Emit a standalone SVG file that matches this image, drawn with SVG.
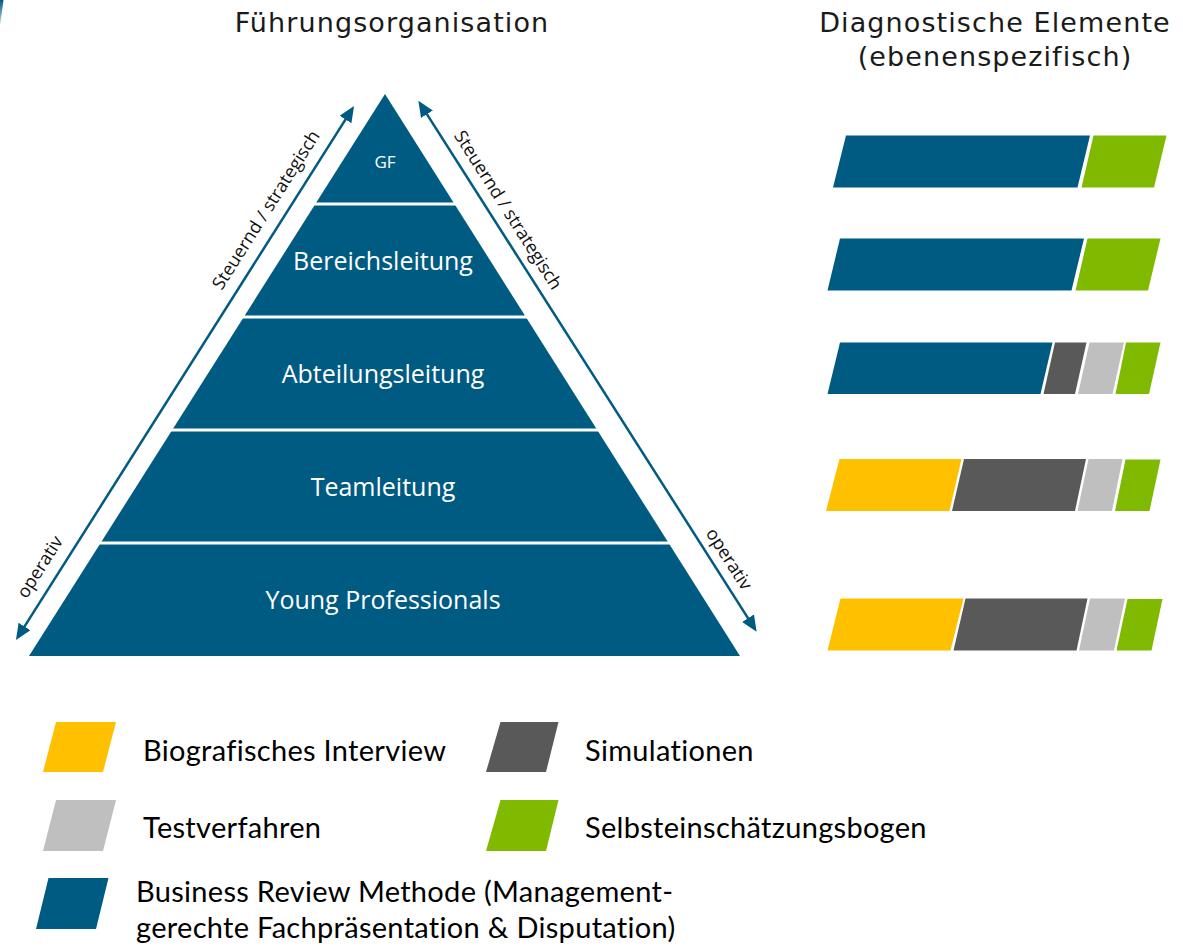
<svg xmlns="http://www.w3.org/2000/svg" width="1183" height="947" viewBox="0 0 1183 947">
  <defs>
    <style>
      .title { font-family: "DejaVu Sans", Verdana, sans-serif; font-size: 27px; fill: #1a1a1a; letter-spacing: 1.1px; }
      .lvl { font-family: "Open Sans", "Noto Sans", sans-serif; font-size: 25px; fill: #ffffff; text-anchor: middle; }
      .side { font-family: "Open Sans", "Noto Sans", sans-serif; font-size: 18px; fill: #111111; text-anchor: middle; }
      .leg { font-family: Lato, "Liberation Sans", sans-serif; font-size: 29px; fill: #000000; letter-spacing: 0.3px; }
      .blue { fill: #005B82; }
      .green { fill: #7FBA00; }
      .dark { fill: #595959; }
      .light { fill: #BFBFBF; }
      .yellow { fill: #FFC000; }
      .arrow { stroke: #005B82; stroke-width: 2.5; fill: none; marker-start: url(#ah); marker-end: url(#ah); }
      .sep { stroke: #ffffff; stroke-width: 3; }
    </style>
    <marker id="ah" viewBox="0 0 16 14" refX="12" refY="7" markerWidth="16" markerHeight="14" markerUnits="userSpaceOnUse" orient="auto-start-reverse">
      <path d="M0,0 L16,7 L0,14 z" fill="#005B82"/>
    </marker>
    <linearGradient id="cornerGrad" x1="0" y1="0" x2="0" y2="1">
      <stop offset="0" stop-color="#005B82"/>
      <stop offset="1" stop-color="#005B82" stop-opacity="0.2"/>
    </linearGradient>
  </defs>

  <rect x="0" y="0" width="1183" height="947" fill="#ffffff"/>
  <polygon points="0,0 3.5,0 0,26" fill="url(#cornerGrad)"/>

  <g id="titles">
    <text class="title" x="392" y="32" text-anchor="middle">Führungsorganisation</text>
    <text class="title" x="995" y="32" text-anchor="middle">Diagnostische Elemente</text>
    <text class="title" x="995" y="66" text-anchor="middle">(ebenenspezifisch)</text>
  </g>

  <g id="pyramid">
    <polygon class="blue" points="385,94 29,656 740,656"/>
    <line class="sep" x1="250" y1="204" x2="520" y2="204"/>
    <line class="sep" x1="200" y1="317" x2="570" y2="317"/>
    <line class="sep" x1="130" y1="430" x2="640" y2="430"/>
    <line class="sep" x1="60" y1="543" x2="710" y2="543"/>
  </g>
  <g id="level-gf"><text class="lvl" x="385" y="168" style="font-size:17px">GF</text></g>
  <g id="level-bereichsleitung"><text class="lvl" x="383" y="270">Bereichsleitung</text></g>
  <g id="level-abteilungsleitung"><text class="lvl" x="383" y="383">Abteilungsleitung</text></g>
  <g id="level-teamleitung"><text class="lvl" x="383" y="496">Teamleitung</text></g>
  <g id="level-young-professionals"><text class="lvl" x="383" y="609">Young Professionals</text></g>

  <g id="connectors">
    <line class="arrow" x1="18.1" y1="636.6" x2="351.9" y2="109.4"/>
    <line class="arrow" x1="420.5" y1="104.1" x2="754.5" y2="628.3"/>
  </g>

  <g id="axis-labels">
    <text class="side" transform="translate(266,210) rotate(-57.6)" x="0" y="6">Steuernd / strategisch</text>
    <text class="side" transform="translate(40,567) rotate(-57.6)" x="0" y="6">operativ</text>
    <text class="side" transform="translate(508,210) rotate(57.5)" x="0" y="6">Steuernd / strategisch</text>
    <text class="side" transform="translate(729,559) rotate(57.5)" x="0" y="6">operativ</text>
  </g>

  <g id="bar-gf">
    <polygon class="blue" points="846,135.5 1090,135.5 1077.5,187.5 833,187.5"/>
    <polygon class="green" points="1093.5,135.5 1166.5,135.5 1154,187.5 1081.5,187.5"/>
  </g>
  <g id="bar-bereichsleitung">
    <polygon class="blue" points="840,238.5 1084,238.5 1071.5,290.5 827.5,290.5"/>
    <polygon class="green" points="1087.5,238.5 1160.5,238.5 1148,290.5 1075.5,290.5"/>
  </g>
  <g id="bar-abteilungsleitung">
    <polygon class="blue" points="840,342.5 1052.5,342.5 1040.5,394 827.5,394"/>
    <polygon class="dark" points="1055,342.5 1086.5,342.5 1075,394 1043.5,394"/>
    <polygon class="light" points="1089.5,342.5 1124,342.5 1112.5,394 1078,394"/>
    <polygon class="green" points="1126,342.5 1160.5,342.5 1149,394 1115.5,394"/>
  </g>
  <g id="bar-teamleitung">
    <polygon class="yellow" points="839.5,459 961.5,459 949.5,511 826,511"/>
    <polygon class="dark" points="964,459 1086,459 1075,511 952,511"/>
    <polygon class="light" points="1088.5,459 1122.5,459 1112,511 1077.5,511"/>
    <polygon class="green" points="1125.5,459.5 1160.5,459.5 1149.5,511 1115,511"/>
  </g>
  <g id="bar-young-professionals">
    <polygon class="yellow" points="840.5,598.5 963.5,598.5 950.5,650.5 827.5,650.5"/>
    <polygon class="dark" points="965.5,598.5 1087.5,598.5 1076.5,650.5 953.5,650.5"/>
    <polygon class="light" points="1090,598.5 1125,598.5 1114,650.5 1079,650.5"/>
    <polygon class="green" points="1127.5,599 1162.5,599 1151.5,650.5 1116.5,650.5"/>
  </g>

  <g id="legend-biografisches-interview">
    <polygon class="yellow" points="56,722 116,722 103,772 43,772"/>
    <text class="leg" x="143" y="761">Biografisches Interview</text>
  </g>
  <g id="legend-simulationen">
    <polygon class="dark" points="500.5,722 558.5,722 546,772 486,772"/>
    <text class="leg" x="585" y="761">Simulationen</text>
  </g>
  <g id="legend-testverfahren">
    <polygon class="light" points="56,800 116,800 103,851 43,851"/>
    <text class="leg" x="143" y="838">Testverfahren</text>
  </g>
  <g id="legend-selbsteinschaetzungsbogen">
    <polygon class="green" points="500.5,800 558.5,800 546,851 486,851"/>
    <text class="leg" x="585" y="838">Selbsteinschätzungsbogen</text>
  </g>
  <g id="legend-business-review">
    <polygon class="blue" points="48.5,878 108.5,878 96,929 36,929"/>
    <text class="leg" x="136" y="902">Business Review Methode (Management-</text>
    <text class="leg" x="136" y="938">gerechte Fachpräsentation &amp; Disputation)</text>
  </g>
</svg>
